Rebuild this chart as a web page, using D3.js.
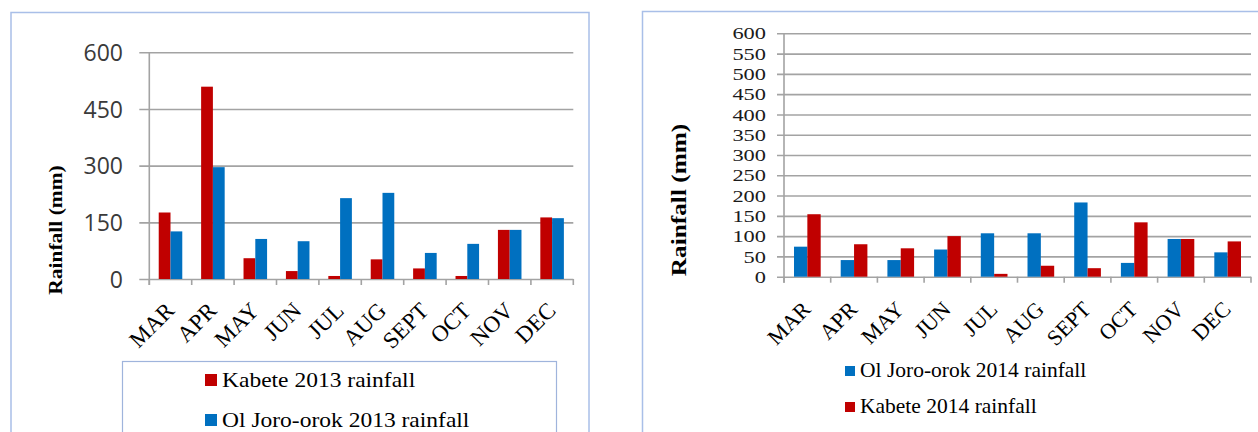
<!DOCTYPE html>
<html>
<head>
<meta charset="utf-8">
<script src="https://cdn.jsdelivr.net/npm/d3@7"></script>
<style>
  html, body { margin: 0; padding: 0; background: #fff; }
  svg { display: block; }
</style>
</head>
<body>
<svg id="chart" width="1258" height="432"></svg>
<script>
// Monthly rainfall (mm)
const months = ["MAR", "APR", "MAY", "JUN", "JUL", "AUG", "SEPT", "OCT", "NOV", "DEC"];

const kabete2013  = [176, 509, 55, 21, 8, 52, 28, 8, 130, 163];
const olJoro2013  = [126, 296, 106, 100, 214, 228, 69, 93, 130, 161];

const olJoro2014  = [74, 41, 41, 67, 107, 107, 183, 34, 93, 60];
const kabete2014  = [154, 80, 70, 100, 7, 27, 21, 134, 93, 87];

const ticks2013 = [0, 150, 300, 450, 600];
const ticks2014 = [0, 50, 100, 150, 200, 250, 300, 350, 400, 450, 500, 550, 600];

const RED = "#C00000", BLUE = "#0070C0";
const GRID = "#a3a3a3";
const FRAME = "#a9bfe8";
const SERIF = "'Liberation Serif', serif";

const svg = d3.select("#chart");
svg.append("rect").attr("width", 1258).attr("height", 432).attr("fill", "#fff");

function drawPanel(opt) {
  const g = svg.append("g");
  const y = d3.scaleLinear().domain([0, 600]).range([opt.y0, opt.y1]);
  const x = d3.scaleBand().domain(months).range([opt.xl, opt.xr]).padding(0);
  const xs = d3.scaleBand().domain(opt.series.map(s => s.name))
    .range([0, x.bandwidth()]).paddingInner(0).paddingOuter(opt.outer);

  // horizontal gridlines + y axis labels
  const yAxis = d3.axisLeft(y).tickValues(opt.ticks).tickSizeInner(-(opt.xr - opt.xl)).tickSizeOuter(0).tickPadding(0);
  const ga = g.append("g").attr("transform", `translate(${opt.xl},0)`).call(yAxis);
  ga.attr("font-family", null).attr("font-size", null);
  ga.select(".domain").remove();
  ga.selectAll(".tick line").attr("x1", -opt.tickOut).attr("stroke", GRID).attr("stroke-width", 1.6);
  ga.selectAll(".tick text")
    .attr("x", opt.labelX - opt.xl)
    .attr("dy", "0.35em")
    .style("font-family", opt.tickFont)
    .style("font-size", opt.tickSize + "px")
    .attr("fill", opt.tickColor)
    .attr("text-anchor", "end");
  if (opt.tickStretch) {
    ga.selectAll(".tick text")
      .attr("transform", "scale(1.4,1)")
      .attr("x", (opt.labelX - opt.xl) / 1.4);
  }

  // y axis line
  g.append("line").attr("x1", opt.xl).attr("x2", opt.xl)
    .attr("y1", opt.y1).attr("y2", opt.y0 + 6)
    .attr("stroke", GRID).attr("stroke-width", 1.6);

  // category tick marks at band edges
  const edges = months.map(m => x(m)).concat([opt.xr]);
  g.selectAll(".xt").data(edges).enter().append("line")
    .attr("x1", d => d).attr("x2", d => d)
    .attr("y1", opt.y0).attr("y2", opt.y0 + 6)
    .attr("stroke", GRID).attr("stroke-width", 1.6);

  // bars
  opt.series.forEach(s => {
    g.selectAll(null).data(s.values).enter().append("rect")
      .attr("x", (d, i) => x(months[i]) + xs(s.name))
      .attr("width", xs.bandwidth())
      .attr("y", d => y(d))
      .attr("height", d => y(0) - y(d))
      .attr("fill", s.color);
  });

  // rotated month labels
  g.selectAll(".xl").data(months).enter().append("text")
    .attr("transform", d => `translate(${x(d) + x.bandwidth() / 2 + opt.xlabDx},${opt.y0 + opt.xlabDy}) rotate(-45)`)
    .attr("text-anchor", "end")
    .style("font-family", SERIF)
    .style("font-size", opt.xlabSize + "px")
    .attr("fill", "#000")
    .text(d => d);

  // y axis title
  g.append("text")
    .attr("transform", `translate(${opt.titleX},${opt.titleY}) rotate(-90) scale(${opt.titleStretch},1)`)
    .attr("text-anchor", "middle")
    .style("font-family", SERIF)
    .style("font-weight", "bold")
    .style("font-size", opt.titleSize + "px")
    .attr("dy", "0.35em")
    .text("Rainfall (mm)");

  // legend
  opt.series.forEach((s, i) => {
    const ly = opt.legendY[i];
    g.append("rect").attr("x", opt.legendX).attr("y", ly - opt.sw + 1)
      .attr("width", opt.sw).attr("height", opt.sw).attr("fill", s.color);
    g.append("text")
      .attr("transform", `translate(${opt.legendX + opt.sw + 5},${ly + 2}) scale(${opt.legendStretch},1)`)
      .style("font-family", SERIF)
      .style("font-size", opt.legendSize + "px")
      .attr("fill", "#000")
      .text(s.label);
  });
}

// chart frames
svg.append("rect").attr("x", 11).attr("y", 12.5).attr("width", 578).attr("height", 440)
  .attr("fill", "none").attr("stroke", FRAME).attr("stroke-width", 1.5);
svg.append("rect").attr("x", 642.5).attr("y", 11.5).attr("width", 640).attr("height", 440)
  .attr("fill", "none").attr("stroke", FRAME).attr("stroke-width", 1.5);

// 2013 legend box
svg.append("rect").attr("x", 122.5).attr("y", 361.5).attr("width", 434).attr("height", 100)
  .attr("fill", "none").attr("stroke", "#9fb4dc").attr("stroke-width", 1.2);

drawPanel({
  xl: 149.3, xr: 573.3, y0: 279, y1: 52.3,
  outer: 0.8, ticks: ticks2013, tickOut: 10,
  labelX: 123, tickFont: "'Open Sans', sans-serif", tickSize: 23, tickColor: "#3a3a3a",
  xlabDx: 5, xlabDy: 33, xlabSize: 23,
  titleX: 55, titleY: 230, titleSize: 19, titleStretch: 1.13,
  legendX: 205, legendY: [385, 425], sw: 12, legendSize: 21, legendStretch: 1.12,
  series: [
    { name: "k", label: "Kabete 2013 rainfall", values: kabete2013, color: RED },
    { name: "o", label: "Ol Joro-orok 2013 rainfall", values: olJoro2013, color: BLUE }
  ]
});

drawPanel({
  xl: 784, xr: 1251, y0: 276.7, y1: 33.3,
  outer: 0.75, ticks: ticks2014, tickOut: 7,
  labelX: 766, tickFont: SERIF, tickSize: 16, tickColor: "#1a1a1a",
  tickStretch: true,
  xlabDx: 4.5, xlabDy: 34, xlabSize: 22,
  titleX: 678, titleY: 200, titleSize: 22, titleStretch: 1.15,
  legendX: 845, legendY: [375, 411], sw: 10, legendSize: 21.5, legendStretch: 1,
  series: [
    { name: "o", label: "Ol Joro-orok 2014 rainfall", values: olJoro2014, color: BLUE },
    { name: "k", label: "Kabete 2014 rainfall", values: kabete2014, color: RED }
  ]
});
</script>
</body>
</html>
